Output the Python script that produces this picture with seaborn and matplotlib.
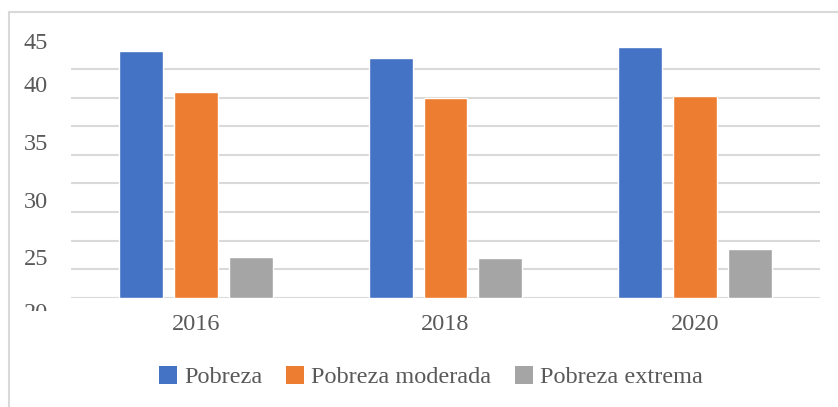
import numpy as np
import pandas as pd
import matplotlib
matplotlib.use("Agg")
import matplotlib.pyplot as plt
import seaborn as sns
from matplotlib.patches import Rectangle, Patch
from matplotlib.transforms import Bbox, TransformedBbox

years = ["2016", "2018", "2020"]
series = ["Pobreza", "Pobreza moderada", "Pobreza extrema"]
pobreza = [43.2, 41.9, 43.9]
moderada = [36.0, 35.0, 35.4]
extrema = [7.2, 7.0, 8.5]
colors = ["#4472C4", "#ED7D31", "#A5A5A5"]
# y tick labels as printed in the reference (misaligned with the grid)
ytick_labels = ["45", "40", "35", "30", "25"]
ytick_pos = [45.0, 37.4, 27.2, 17.1, 7.2]
cut_label = "20"
cut_label_pos = -2.7
grid_values = list(range(0, 46, 5))

df = pd.DataFrame({
    "year": years * 3,
    "serie": [series[0]] * 3 + [series[1]] * 3 + [series[2]] * 3,
    "valor": pobreza + moderada + extrema,
})

sns.set_theme(style="white")
plt.rcParams["font.family"] = ["Liberation Serif", "DejaVu Serif"]
txt = "#595959"
grid_c = "#D9D9D9"

W, H = 838, 407
fig = plt.figure(figsize=(W / 100, H / 100), dpi=100)
ax = fig.add_axes([71 / W, 1 - 297.7 / H, (820 - 71) / W, (297.7 - 40.7) / H])

sns.barplot(data=df, x="year", y="valor", hue="serie", palette=colors,
            width=0.66, gap=0.2, saturation=1, ax=ax, legend=False)

ax.set_xlim(-0.5, 2.5)
ax.set_ylim(0, 45)
ax.set_xlabel("")
ax.set_ylabel("")
for s in ax.spines.values():
    s.set_visible(False)

ax.set_yticks(grid_values, minor=True)
ax.grid(False)
ax.grid(which="minor", axis="y", color=grid_c, lw=1.5)
ax.set_axisbelow(True)
ax.set_yticks(ytick_pos, ytick_labels)
ax.tick_params(axis="y", which="both", length=0, pad=16.5, labelsize=17.5, labelcolor=txt)
ax.tick_params(axis="x", length=0, pad=11.5, labelsize=17.5, labelcolor=txt)

t = ax.text(-23 / 749, cut_label_pos, cut_label, transform=ax.get_yaxis_transform(),
            ha="right", va="center", fontsize=17.5, color=txt)
t.set_clip_on(True)
t.set_clip_box(TransformedBbox(Bbox([[0, 1 - 310.5 / H], [1, 1]]), fig.transFigure))

# outer frame
fig.patches.append(Rectangle((8.5 / W, -0.1), 2, 1.1 - 11.7 / H, transform=fig.transFigure,
                             fill=False, ec=grid_c, lw=1.5))

handles = [Patch(facecolor=c, edgecolor="none") for c in colors]
fig.legend(handles, series, loc="center", bbox_to_anchor=(431 / W, 1 - 377 / H), ncol=3,
           frameon=False, fontsize=17.5, labelcolor=txt, handlelength=0.75, handleheight=0.75,
           handletextpad=0.3, columnspacing=0.95, borderpad=0)

fig.savefig("out.png", dpi=100)
